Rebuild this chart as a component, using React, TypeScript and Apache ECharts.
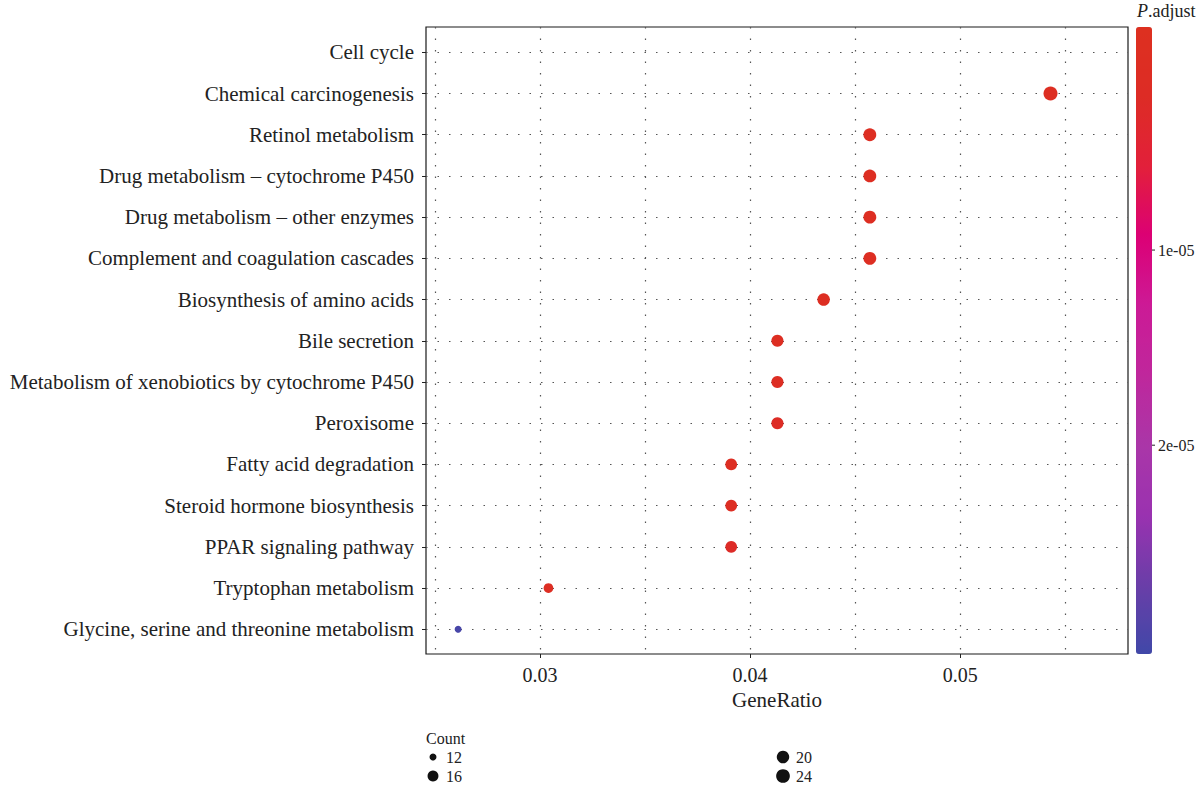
import React, { useEffect, useRef } from 'react';
import * as echarts from 'echarts';

const categories = [
  'Cell cycle',
  'Chemical carcinogenesis',
  'Retinol metabolism',
  'Drug metabolism – cytochrome P450',
  'Drug metabolism – other enzymes',
  'Complement and coagulation cascades',
  'Biosynthesis of amino acids',
  'Bile secretion',
  'Metabolism of xenobiotics by cytochrome P450',
  'Peroxisome',
  'Fatty acid degradation',
  'Steroid hormone biosynthesis',
  'PPAR signaling pathway',
  'Tryptophan metabolism',
  'Glycine, serine and threonine metabolism',
];

const pointTerms = [
  'Chemical carcinogenesis',
  'Retinol metabolism',
  'Drug metabolism – cytochrome P450',
  'Drug metabolism – other enzymes',
  'Complement and coagulation cascades',
  'Biosynthesis of amino acids',
  'Bile secretion',
  'Metabolism of xenobiotics by cytochrome P450',
  'Peroxisome',
  'Fatty acid degradation',
  'Steroid hormone biosynthesis',
  'PPAR signaling pathway',
  'Tryptophan metabolism',
  'Glycine, serine and threonine metabolism',
];
const geneRatio = [0.0543, 0.0457, 0.0457, 0.0457, 0.0457, 0.0435, 0.0413, 0.0413, 0.0413, 0.0391, 0.0391, 0.0391, 0.0304, 0.0261];
const counts = [25, 21, 21, 21, 21, 20, 19, 19, 19, 18, 18, 18, 14, 12];
const pAdjust = [2.1e-10, 4.3e-9, 1.2e-8, 3.0e-8, 5.6e-8, 1.1e-7, 3.5e-7, 4.2e-7, 1.8e-6, 6.1e-7, 8.0e-7, 2.4e-6, 5.0e-7, 3.0e-5];

const xMajorTicks = [0.03, 0.04, 0.05];
const xGridValues = [0.025, 0.03, 0.035, 0.04, 0.045, 0.05, 0.055];
const xMin = 0.02457;
const xMax = 0.05799;

const colorMin = -1.43e-6;
const colorMax = 3.07e-5;
const colorTicks = [1e-5, 2e-5];
const colorTickLabels = ['1e-05', '2e-05'];
const colorStops = ['#dd3020', '#dd2c25', '#e2203a', '#dc0075', '#cc1a96', '#bf279c', '#aa36a8', '#9a32b0', '#6a3ea8', '#4048a8'];

const sizeLegend = [12, 16, 20, 24];
const countMin = 12;
const countMax = 25;

const FONT = "'Liberation Serif', 'Times New Roman', serif";
const TEXT = '#222';

function dotSize(c: number) {
  const t = Math.max(0, (c - countMin) / (countMax - countMin));
  return 7 + 7 * Math.sqrt(t);
}

export default function App() {
  const ref = useRef<HTMLDivElement>(null);
  useEffect(() => {
    if (!ref.current) return;
    const chart = echarts.init(ref.current, null, { renderer: 'svg' });

    const barTop = 27;
    const barH = 627;
    const barLeft = 1136;
    const barW = 16;
    const yOf = (v: number) => barTop + ((v - colorMin) / (colorMax - colorMin)) * barH;

    const graphics: any[] = [];
    graphics.push({
      type: 'text',
      left: 1137,
      top: 2,
      style: {
        text: '{i|P}.adjust',
        font: `18px ${FONT}`,
        fill: TEXT,
        rich: { i: { fontStyle: 'italic', fontFamily: FONT, fontSize: 18, fill: TEXT } },
      },
    });
    colorTicks.forEach((v, i) => {
      const y = yOf(v);
      graphics.push({
        type: 'line',
        shape: { x1: barLeft + barW, y1: y, x2: barLeft + barW + 3, y2: y },
        style: { stroke: '#222', lineWidth: 1 },
      });
      graphics.push({
        type: 'text',
        x: barLeft + barW + 6,
        y,
        style: { text: colorTickLabels[i], font: `16px ${FONT}`, fill: TEXT, verticalAlign: 'middle', align: 'left' },
      });
    });

    graphics.push({
      type: 'text',
      x: 426,
      y: 738,
      style: { text: 'Count', font: `16px ${FONT}`, fill: TEXT, verticalAlign: 'middle' },
    });
    const legendPos = [
      [433, 757],
      [433, 776],
      [783, 757],
      [783, 776],
    ];
    sizeLegend.forEach((c, i) => {
      const [cx, cy] = legendPos[i];
      graphics.push({
        type: 'circle',
        shape: { cx, cy, r: dotSize(c) / 2 },
        style: { fill: '#111' },
      });
      graphics.push({
        type: 'text',
        x: cx + 13,
        y: cy,
        style: { text: String(c), font: `16px ${FONT}`, fill: TEXT, verticalAlign: 'middle' },
      });
    });

    const dotted = { color: '#555', width: 1.2, type: [1.5, 10] as any };

    chart.setOption({
      animation: false,
      backgroundColor: '#fff',
      grid: [
        { left: 426, right: 76, top: 27, bottom: 135, show: true, borderColor: '#1a1a1a', borderWidth: 1.2, backgroundColor: 'transparent' },
        { left: 426, right: 76, top: 52.3, bottom: 159.7 },
      ],
      xAxis: [
        {
          gridIndex: 0,
          type: 'value',
          min: xMin,
          max: xMax,
          axisLine: { show: false },
          axisTick: { show: false, customValues: xGridValues },
          splitLine: { show: true, lineStyle: dotted },
          axisLabel: {
            customValues: xMajorTicks,
            formatter: (v: number) => v.toFixed(2),
            fontFamily: FONT,
            fontSize: 20,
            color: TEXT,
            margin: 11,
          },
          name: 'GeneRatio',
          nameLocation: 'middle',
          nameGap: 35,
          nameTextStyle: { fontFamily: FONT, fontSize: 21, color: TEXT },
        },
        {
          gridIndex: 0,
          type: 'value',
          min: xMin,
          max: xMax,
          position: 'bottom',
          axisLine: { show: false },
          axisTick: { show: true, customValues: xMajorTicks, length: 4, lineStyle: { color: '#222' } },
          axisLabel: { show: false },
          splitLine: { show: false },
        },
        {
          gridIndex: 1,
          type: 'value',
          min: xMin,
          max: xMax,
          show: false,
          splitLine: { show: false },
        },
      ],
      yAxis: [
        { gridIndex: 0, type: 'value', min: 0, max: 1, show: false, splitLine: { show: false } },
        {
          gridIndex: 1,
          type: 'category',
          data: categories,
          inverse: true,
          boundaryGap: false,
          axisLine: { show: false },
          axisTick: { show: true, length: 4, lineStyle: { color: '#222' } },
          splitLine: { show: true, lineStyle: dotted },
          axisLabel: { fontFamily: FONT, fontSize: 21, color: TEXT, margin: 12, interval: 0 },
        },
      ],
      visualMap: {
        type: 'continuous',
        min: colorMin,
        max: colorMax,
        dimension: 2,
        seriesIndex: 0,
        orient: 'vertical',
        inverse: true,
        left: barLeft,
        top: barTop,
        itemWidth: barW,
        itemHeight: barH,
        padding: 0,
        calculable: false,
        hoverLink: false,
        inRange: { color: colorStops },
      },
      series: [
        {
          type: 'scatter',
          xAxisIndex: 2,
          yAxisIndex: 1,
          data: pointTerms.map((t, i) => [geneRatio[i], t, pAdjust[i], counts[i]]),
          encode: { x: 0, y: 1 },
          symbol: 'circle',
          symbolSize: (d: any) => dotSize(d[3]),
          itemStyle: { opacity: 1 },
          z: 5,
        },
      ],
      graphic: graphics,
    });
    return () => chart.dispose();
  }, []);
  return <div ref={ref} style={{ position: 'absolute', left: 0, top: 0, width: 1204, height: 789 }} />;
}
